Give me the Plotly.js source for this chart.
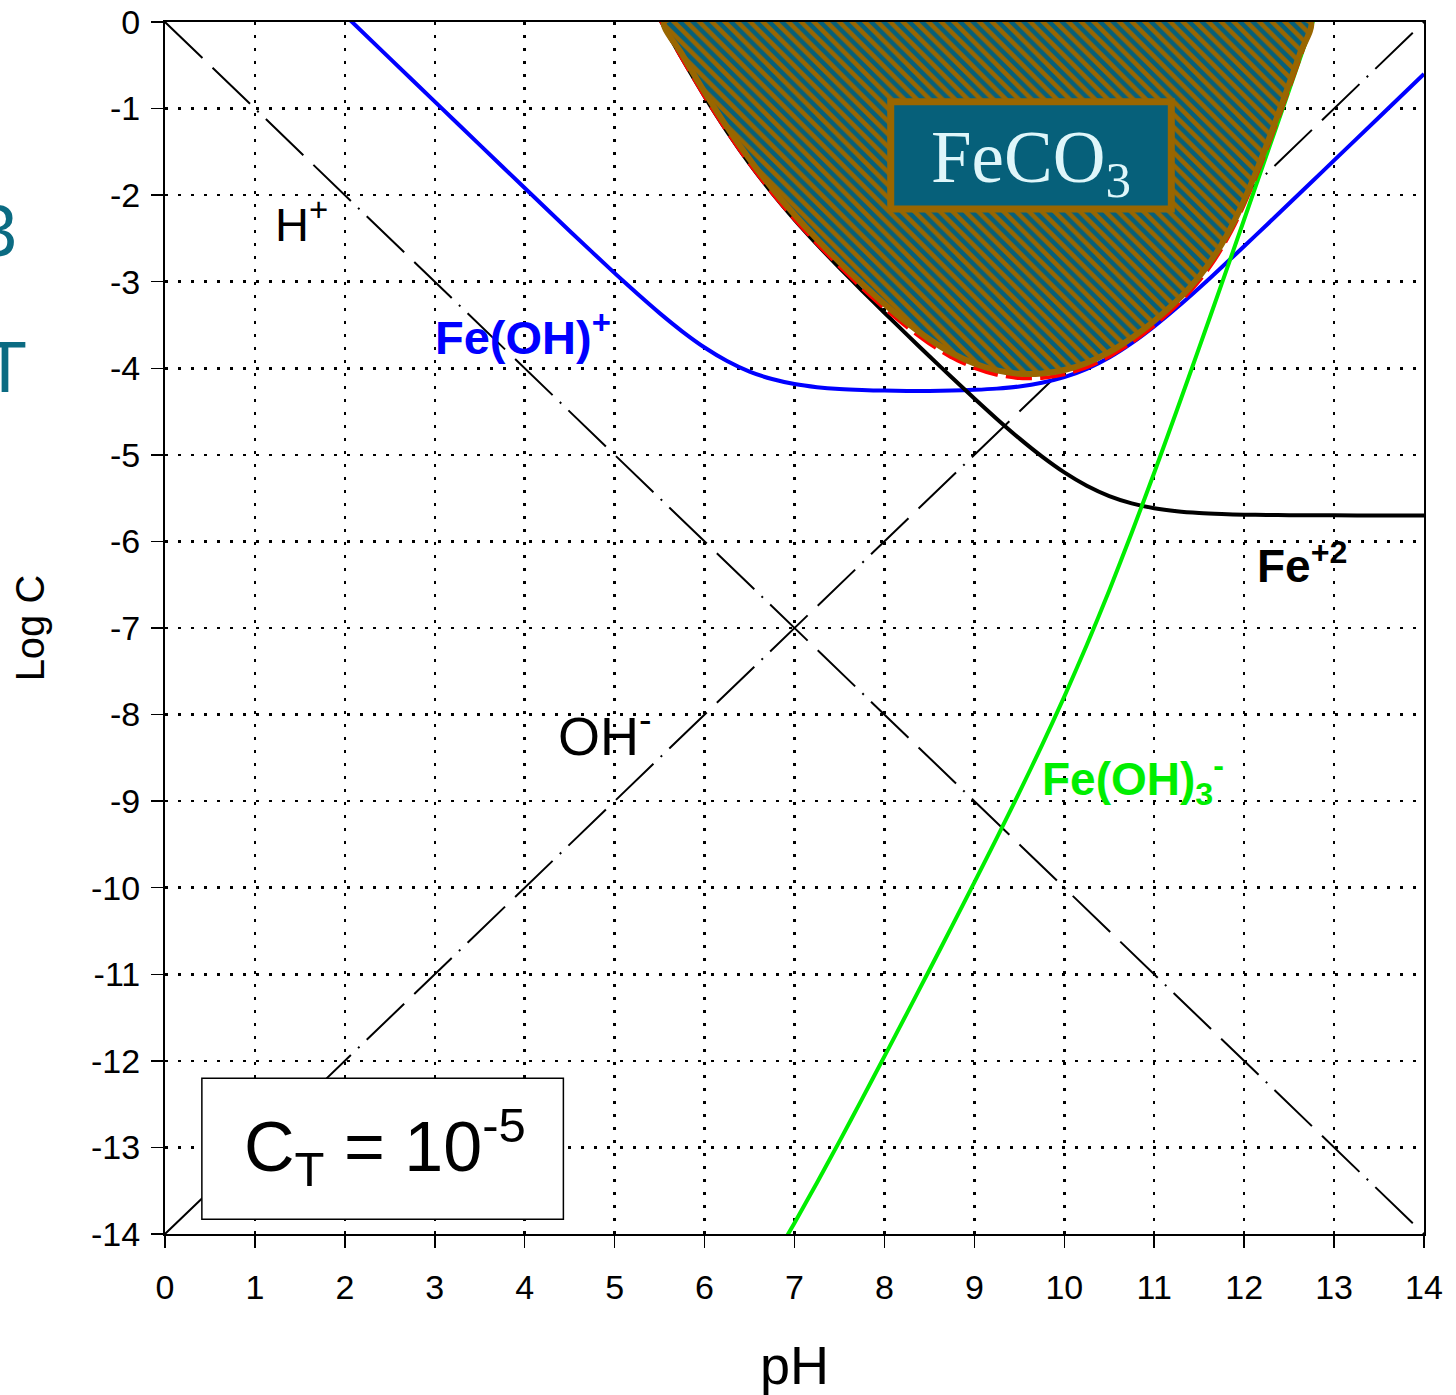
<!DOCTYPE html>
<html>
<head>
<meta charset="utf-8">
<script src="https://cdn.plot.ly/plotly-3.0.1.min.js"></script>
<style>
html,body{margin:0;padding:0;background:#fff;overflow:hidden;}
#chart{width:1456px;height:1395px;}
</style>
</head>
<body>
<div id="chart"></div>
<script>
// ---- data ----
const pH_lines = [0, 14];
const logH = [0, -14];
const logOH = [-14, 0];

const pH_Fe = [5.5,5.75,6,6.25,6.5,6.75,7,7.25,7.5,7.75,8,8.25,8.5,8.75,9,9.25,9.5,9.75,10,10.25,10.5,10.75,11,11.25,11.5,11.75,12,12.25,12.5,12.75,13,13.5,14];
const logFe = [0.037,-0.423,-0.860,-1.266,-1.638,-1.974,-2.282,-2.568,-2.840,-3.102,-3.358,-3.611,-3.861,-4.107,-4.349,-4.585,-4.810,-5.018,-5.203,-5.357,-5.476,-5.560,-5.616,-5.651,-5.672,-5.684,-5.691,-5.695,-5.697,-5.698,-5.699,-5.700,-5.700];

const pH_FeOH = [2,2.5,3,3.5,4,4.5,5,5.25,5.5,5.75,6,6.25,6.5,6.75,7,7.25,7.5,7.75,8,8.25,8.5,8.75,9,9.25,9.5,9.75,10,10.25,10.5,10.75,11,11.25,11.5,11.75,12,12.25,12.5,12.75,13,13.5,14];
const logFeOH = [0.08,-0.42,-0.92,-1.419,-1.918,-2.414,-2.901,-3.137,-3.363,-3.573,-3.760,-3.916,-4.038,-4.124,-4.182,-4.218,-4.240,-4.252,-4.258,-4.261,-4.261,-4.257,-4.249,-4.235,-4.210,-4.168,-4.103,-4.007,-3.876,-3.710,-3.516,-3.301,-3.072,-2.834,-2.591,-2.345,-2.097,-1.848,-1.599,-1.100,-0.600];

const pH_FeOH3 = [6.9,7,7.25,7.5,7.75,8,8.25,8.5,8.75,9,9.25,9.5,9.75,10,10.25,10.5,10.75,11,11.25,11.5,11.75,12,12.25,12.5,12.75,13];
const logFeOH3 = [-14.052,-13.872,-13.408,-12.930,-12.442,-11.948,-11.451,-10.951,-10.447,-9.939,-9.425,-8.900,-8.358,-7.793,-7.197,-6.566,-5.900,-5.206,-4.491,-3.762,-3.024,-2.281,-1.535,-0.787,-0.038,0.711];

const pH_tot = [5.5,5.75,6,6.25,6.5,6.75,7,7.25,7.5,7.75,8,8.25,8.5,8.75,9,9.25,9.5,9.75,10,10.25,10.5,10.75,11,11.25,11.375,11.5,11.625,11.75,11.875,12,12.125,12.25,12.375,12.5,12.625,12.75,12.76];
const logTot = [0.038,-0.422,-0.859,-1.265,-1.636,-1.971,-2.277,-2.559,-2.823,-3.072,-3.307,-3.523,-3.715,-3.875,-3.995,-4.074,-4.113,-4.111,-4.070,-3.988,-3.864,-3.701,-3.504,-3.272,-3.139,-2.990,-2.818,-2.617,-2.381,-2.108,-1.802,-1.472,-1.125,-0.766,-0.401,-0.032,0.0];

const pH_reg = [5.55,5.75,6,6.25,6.5,6.75,7,7.25,7.5,7.75,8,8.25,8.5,8.75,9,9.25,9.5,9.75,10,10.25,10.5,10.75,11,11.25,11.375,11.5,11.625,11.75,11.875,12,12.125,12.25,12.375,12.5,12.625,12.74];
const logReg = [0,-0.372,-0.809,-1.215,-1.586,-1.921,-2.227,-2.509,-2.773,-3.022,-3.257,-3.473,-3.665,-3.825,-3.945,-4.024,-4.063,-4.061,-4.020,-3.938,-3.814,-3.651,-3.454,-3.222,-3.089,-2.940,-2.768,-2.567,-2.331,-2.058,-1.752,-1.422,-1.075,-0.716,-0.351,0];

const xTicks = [0,1,2,3,4,5,6,7,8,9,10,11,12,13,14];
const yTicks = [0,-1,-2,-3,-4,-5,-6,-7,-8,-9,-10,-11,-12,-13,-14];

// ---- styles ----
const BROWN = '#996600';
const TEAL = '#06607a';
const FONT = 'Liberation Sans, Arial, sans-serif';
const dashHOH = '52px,14px,52px,10px,2px,10px';

const traces = [
  {x: pH_lines, y: logH, mode: 'lines', line: {color: '#000', width: 2, dash: dashHOH}, hoverinfo: 'skip'},
  {x: pH_lines, y: logOH, mode: 'lines', line: {color: '#000', width: 2, dash: dashHOH}, hoverinfo: 'skip'},
  {x: pH_FeOH, y: logFeOH, mode: 'lines', line: {color: '#0000ff', width: 4, shape: 'spline', smoothing: 0.6}},
  {x: pH_Fe, y: logFe, mode: 'lines', line: {color: '#000', width: 4, shape: 'spline', smoothing: 0.6}},
  {x: pH_FeOH3, y: logFeOH3, mode: 'lines', line: {color: '#00ee00', width: 4, shape: 'spline', smoothing: 0.6}},
  {x: pH_tot, y: logTot, mode: 'lines', line: {color: '#ff0000', width: 4, dash: '26px,8px', shape: 'spline', smoothing: 0.6}},
  {x: pH_reg.concat([pH_reg[0]]), y: logReg.concat([logReg[0]]), mode: 'lines', fill: 'toself',
   fillcolor: TEAL,
   fillpattern: {shape: '\\', bgcolor: TEAL, fgcolor: BROWN, size: 9, solidity: 0.5, fillmode: 'replace'},
   line: {color: BROWN, width: 6, shape: 'spline', smoothing: 0.6}}
];

const axisCommon = {
  showline: true, linecolor: '#000', linewidth: 2, mirror: true,
  ticks: 'outside', ticklen: 12, tickwidth: 1.5, tickcolor: '#000',
  showgrid: true, gridcolor: '#000', gridwidth: 2.5, griddash: '3px,10px',
  zeroline: false, tickfont: {family: FONT, size: 34, color: '#000'},
  fixedrange: true
};

const layout = {
  width: 1456, height: 1395,
  margin: {l: 165, r: 32, t: 22, b: 161},
  paper_bgcolor: '#fff', plot_bgcolor: '#fff',
  showlegend: false,
  xaxis: Object.assign({}, axisCommon, {
    range: [0, 14], tickmode: 'array', tickvals: xTicks, ticktext: xTicks.map(String),
    ticklabelstandoff: 10,
    title: {text: 'pH', font: {family: FONT, size: 54, color: '#000'}, standoff: 44}
  }),
  yaxis: Object.assign({}, axisCommon, {
    range: [-14, 0], tickmode: 'array', tickvals: yTicks, ticktext: yTicks.map(String),
    ticklabelstandoff: 4,
    title: {text: 'Log C', font: {family: FONT, size: 40, color: '#000'}, standoff: 34}
  }),
  shapes: [
    {type: 'rect', xref: 'x', yref: 'y', x0: 0.41, x1: 4.43, y0: -12.20, y1: -13.83,
     fillcolor: '#fff', line: {color: '#000', width: 1.5}, layer: 'above'},
    {type: 'rect', xref: 'x', yref: 'y', x0: 8.07, x1: 11.19, y0: -0.92, y1: -2.16,
     fillcolor: TEAL, line: {color: BROWN, width: 7}, layer: 'above'}
  ],
  annotations: [
    {xref: 'x', yref: 'y', x: 9.63, y: -1.62, text: 'FeCO<sub>3</sub>', showarrow: false,
     font: {family: 'Liberation Serif, Times New Roman, serif', size: 73, color: '#dff6fa'}},
    {xref: 'x', yref: 'y', x: 2.45, y: -13.0, text: 'C<sub>T</sub> = 10<sup>-5</sup>', showarrow: false,
     font: {family: FONT, size: 70, color: '#000'}},
    {xref: 'x', yref: 'y', x: 1.2, y: -2.3, xanchor: 'left', text: 'H<sup>+</sup>', showarrow: false,
     font: {family: FONT, size: 47, color: '#000'}},
    {xref: 'x', yref: 'y', x: 4.35, y: -8.2, xanchor: 'left', text: 'OH<sup>-</sup>', showarrow: false,
     font: {family: FONT, size: 54, color: '#000'}},
    {xref: 'x', yref: 'y', x: 2.98, y: -3.6, xanchor: 'left', text: 'Fe(OH)<sup>+</sup>', showarrow: false,
     font: {family: FONT, size: 47, color: '#0000ff', weight: 'bold'}},
    {xref: 'x', yref: 'y', x: 12.12, y: -6.25, xanchor: 'left', text: 'Fe<sup>+2</sup>', showarrow: false,
     font: {family: FONT, size: 46, color: '#000', weight: 'bold'}},
    {xref: 'x', yref: 'y', x: 9.73, y: -8.75, xanchor: 'left', text: 'Fe(OH)<sub>3</sub><sup>-</sup>', showarrow: false,
     font: {family: FONT, size: 46, color: '#00ee00', weight: 'bold'}},
    {xref: 'paper', yref: 'paper', x: -0.116, y: 0.862, xanchor: 'right', text: '3', showarrow: false,
     font: {family: FONT, size: 72, color: '#0b6b82'}},
    {xref: 'paper', yref: 'paper', x: -0.108, y: 0.75, xanchor: 'right', text: 'T', showarrow: false,
     font: {family: FONT, size: 72, color: '#0b6b82'}}
  ]
};

Plotly.newPlot('chart', traces, layout, {displayModeBar: false, staticPlot: true});
</script>
</body>
</html>
